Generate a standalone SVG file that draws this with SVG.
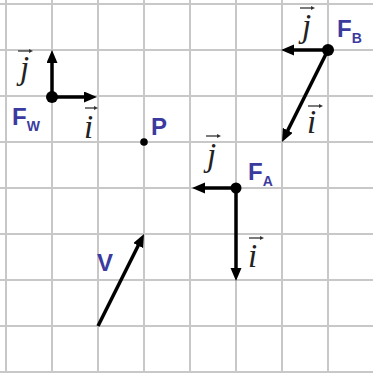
<svg xmlns="http://www.w3.org/2000/svg" width="373" height="373" viewBox="0 0 373 373">
<style>
.grid line{stroke:#c8c8c8;stroke-width:2}
.vec{stroke:#000;stroke-width:3.5;fill:none;marker-end:url(#ah)}
.dot{fill:#000}
.it{font-family:"Liberation Serif","Times New Roman",serif;font-style:italic;font-size:33px;fill:#222}
.lb{font-family:"Liberation Sans",Arial,sans-serif;font-weight:bold;font-size:24px;fill:#3b3b9f}
.sub{font-size:14px}
.acc{stroke:#333;stroke-width:1.3;fill:none;marker-end:url(#sa)}
</style>
<defs>
<marker id="ah" markerUnits="userSpaceOnUse" markerWidth="14" markerHeight="12" refX="5" refY="5.5" orient="auto" viewBox="0 0 14 12"><path d="M0,0 L13,5.5 L0,11 z" fill="#000"/></marker>
<marker id="sa" markerUnits="userSpaceOnUse" markerWidth="6" markerHeight="6" refX="1" refY="2" orient="auto" viewBox="0 0 6 4"><path d="M0,0 L4,2 L0,4 z" fill="#333"/></marker>
</defs>
<rect width="373" height="373" fill="#fff"/>
<g class="grid">
<line x1="6" y1="0" x2="6" y2="373"/><line x1="52" y1="0" x2="52" y2="373"/><line x1="98" y1="0" x2="98" y2="373"/><line x1="144" y1="0" x2="144" y2="373"/><line x1="190" y1="0" x2="190" y2="373"/><line x1="236" y1="0" x2="236" y2="373"/><line x1="282" y1="0" x2="282" y2="373"/><line x1="328" y1="0" x2="328" y2="373"/>
<line x1="0" y1="4" x2="373" y2="4"/><line x1="0" y1="50" x2="373" y2="50"/><line x1="0" y1="96" x2="373" y2="96"/><line x1="0" y1="142" x2="373" y2="142"/><line x1="0" y1="188" x2="373" y2="188"/><line x1="0" y1="234" x2="373" y2="234"/><line x1="0" y1="280" x2="373" y2="280"/><line x1="0" y1="326" x2="373" y2="326"/><line x1="0" y1="372" x2="373" y2="372"/>
</g>
<g id="connectors">
<line class="vec" x1="52" y1="97" x2="52" y2="58"/>
<line class="vec" x1="52" y1="97" x2="89" y2="97"/>
<line class="vec" x1="328" y1="50" x2="289" y2="50"/>
<line class="vec" x1="328" y1="50" x2="285.6" y2="134.8"/>
<line class="vec" x1="236" y1="188" x2="200" y2="188"/>
<line class="vec" x1="236" y1="188" x2="236" y2="273"/>
<line class="vec" x1="98" y1="326" x2="140.4" y2="241.2"/>
</g>
<g id="FW">
<circle class="dot" cx="52" cy="97" r="6"/>
<text class="lb" x="12" y="125">F<tspan class="sub" dy="6">W</tspan></text>
<text class="it" x="20" y="79">j</text><line class="acc" x1="18" y1="51" x2="30" y2="51"/>
<text class="it" x="84" y="138">i</text><line class="acc" x1="85" y1="108" x2="95" y2="108"/>
</g>
<g id="P">
<circle class="dot" cx="144" cy="142" r="3.8"/>
<text class="lb" x="151" y="135">P</text>
</g>
<g id="FB">
<circle class="dot" cx="328" cy="50" r="6"/>
<text class="lb" x="337" y="37">F<tspan class="sub" dy="6">B</tspan></text>
<text class="it" x="302" y="37">j</text><line class="acc" x1="300" y1="8" x2="312" y2="8"/>
<text class="it" x="307" y="133">i</text><line class="acc" x1="308" y1="106" x2="320" y2="106"/>
</g>
<g id="FA">
<circle class="dot" cx="236" cy="188" r="5.5"/>
<text class="lb" x="248" y="180">F<tspan class="sub" dy="6">A</tspan></text>
<text class="it" x="207" y="166">j</text><line class="acc" x1="206" y1="136" x2="218" y2="136"/>
<text class="it" x="248" y="267">i</text><line class="acc" x1="249" y1="238" x2="261" y2="238"/>
</g>
<g id="V">
<text class="lb" x="97" y="271">V</text>
</g>
</svg>
